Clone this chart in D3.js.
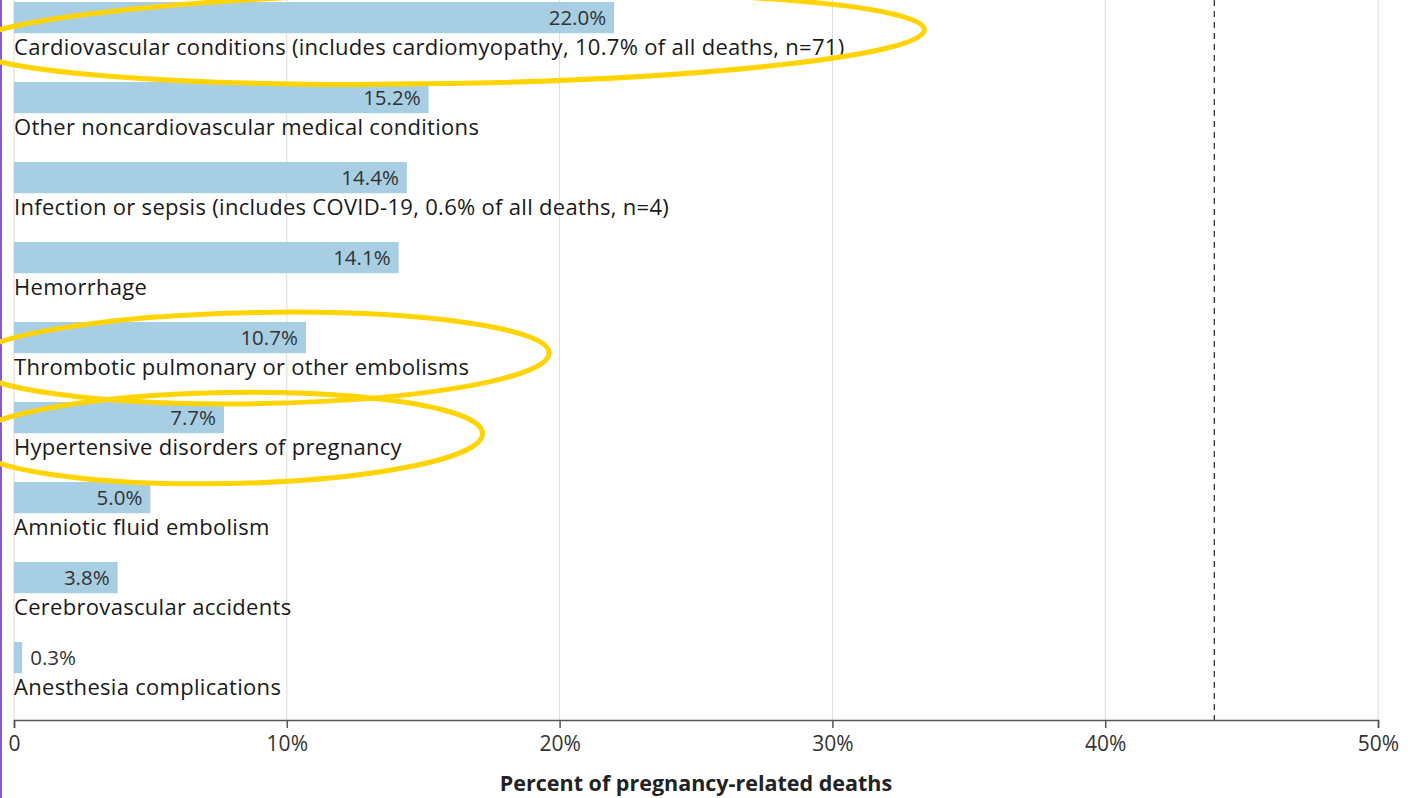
<!DOCTYPE html>
<html>
<head>
<meta charset="utf-8">
<script src="https://cdn.jsdelivr.net/npm/d3@7"></script>
<style>
  body { margin: 0; background: #fff; }
  svg { display: block; font-family: "Open Sans", Lato, sans-serif; }
</style>
</head>
<body>
<div id="chart-area"></div>
<script>
const categories = [
  'Cardiovascular conditions (includes cardiomyopathy, 10.7% of all deaths, n=71)',
  'Other noncardiovascular medical conditions',
  'Infection or sepsis (includes COVID-19, 0.6% of all deaths, n=4)',
  'Hemorrhage',
  'Thrombotic pulmonary or other embolisms',
  'Hypertensive disorders of pregnancy',
  'Amniotic fluid embolism',
  'Cerebrovascular accidents',
  'Anesthesia complications'
];
const values = [22.0, 15.2, 14.4, 14.1, 10.7, 7.7, 5.0, 3.8, 0.3];
const xTicks = [0, 10, 20, 30, 40, 50];
const referenceLine = 44;
// circled by hand in the picture
const highlighted = [
  'Cardiovascular conditions (includes cardiomyopathy, 10.7% of all deaths, n=71)',
  'Thrombotic pulmonary or other embolisms',
  'Hypertensive disorders of pregnancy'
];

const W = 1408, H = 798;
const margin = { left: 14, right: 30, top: 2, bottom: 78 };
const width = W - margin.left - margin.right;
const height = H - margin.top - margin.bottom;
const FONT = '"Open Sans", Lato, sans-serif';

const svg = d3.select('#chart-area').append('svg')
  .attr('width', W)
  .attr('height', H);

// purple frame edge on the left
svg.append('rect')
  .attr('x', 0).attr('y', 0)
  .attr('width', 2).attr('height', H)
  .attr('fill', '#8856d8');

const g = svg.append('g')
  .attr('transform', `translate(${margin.left}, ${margin.top})`);

const x = d3.scaleLinear().domain([0, 50]).range([0, width]);
const y = d3.scaleBand().domain(categories).range([0, 720]);
const barH = y.bandwidth() * 0.39;

// gridlines
g.append('g')
  .selectAll('line')
  .data(xTicks)
  .join('line')
  .attr('x1', d => x(d)).attr('x2', d => x(d))
  .attr('y1', -margin.top).attr('y2', height)
  .attr('stroke', '#dcdcdc')
  .attr('stroke-width', 1);

// bars
g.selectAll('rect.bar')
  .data(categories)
  .join('rect')
  .attr('class', 'bar')
  .attr('x', 0)
  .attr('y', d => y(d))
  .attr('width', (d, i) => x(values[i]))
  .attr('height', barH)
  .attr('fill', '#a7cee3');

// value labels
g.selectAll('text.val')
  .data(categories)
  .join('text')
  .attr('class', 'val')
  .attr('x', (d, i) => {
    const w = x(values[i]);
    return w > 60 ? w - 8 : w + 8;
  })
  .attr('y', d => y(d) + barH / 2)
  .attr('dy', '0.37em')
  .attr('text-anchor', (d, i) => x(values[i]) > 60 ? 'end' : 'start')
  .attr('font-size', 20.5)
  .attr('fill', '#333')
  .text((d, i) => values[i].toFixed(1) + '%');

// category labels
const labels = g.selectAll('text.cat')
  .data(categories)
  .join('text')
  .attr('class', 'cat')
  .attr('x', 0)
  .attr('y', d => y(d) + barH + 22)
  .attr('font-size', 22)
  .attr('letter-spacing', 0.3)
  .attr('fill', '#1a1a1a')
  .text(d => d);

// dashed reference line
g.append('line')
  .attr('x1', x(referenceLine)).attr('x2', x(referenceLine))
  .attr('y1', -margin.top).attr('y2', height)
  .attr('stroke', '#333')
  .attr('stroke-width', 1.3)
  .attr('stroke-dasharray', '6,5');

// x axis
const axis = g.append('g')
  .attr('transform', `translate(0, ${height})`)
  .call(d3.axisBottom(x)
    .tickValues(xTicks)
    .tickSize(8)
    .tickFormat(d => d === 0 ? '0' : d + '%'));
axis.select('.domain').attr('stroke', '#555').attr('stroke-width', 1.5);
axis.selectAll('.tick line').attr('stroke', '#555').attr('stroke-width', 1.5);
axis.selectAll('.tick text')
  .attr('font-size', 21)
  .attr('font-family', FONT)
  .attr('fill', '#333')
  .attr('dy', '0.95em');

g.append('text')
  .attr('x', width / 2)
  .attr('y', height + 71)
  .attr('text-anchor', 'middle')
  .attr('font-size', 21.5)
  .attr('font-weight', 'bold')
  .attr('fill', '#222')
  .text('Percent of pregnancy-related deaths');

// yellow hand-drawn circles around highlighted labels
labels.filter(d => highlighted.includes(d)).each(function(d) {
  const bb = this.getBBox();
  const left = -45, right = bb.width + 80;
  const cx = (left + right) / 2;
  const cy = y(d) + y.bandwidth() * 0.5 - 4;
  g.append('ellipse')
    .attr('cx', cx)
    .attr('cy', cy)
    .attr('rx', (right - left) / 2)
    .attr('ry', y.bandwidth() * 0.57)
    .attr('transform', `rotate(-1, ${cx}, ${cy})`)
    .attr('fill', 'none')
    .attr('stroke', '#ffd400')
    .attr('stroke-width', 5);
});
</script>
</body>
</html>
